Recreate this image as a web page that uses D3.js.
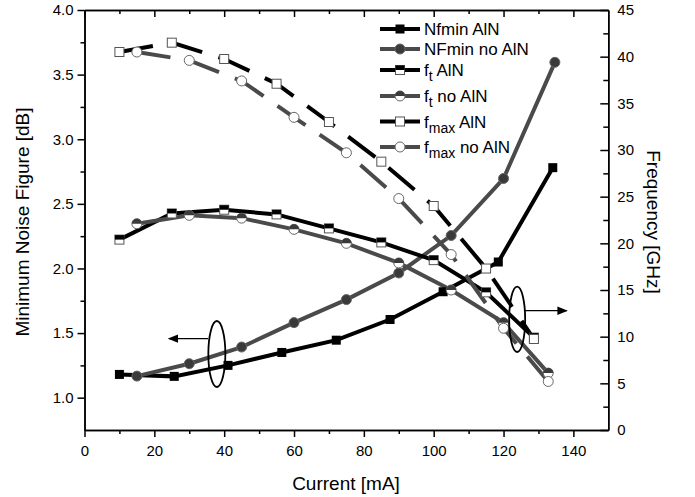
<!DOCTYPE html>
<html>
<head>
<meta charset="utf-8">
<script src="https://cdn.jsdelivr.net/npm/d3@7"></script>
<style>
  body { margin: 0; background: #fff; }
  svg { font-family: "Liberation Sans", Arial, sans-serif; }
  .axis path, .axis line { stroke: #000; stroke-width: 1.5; }
  .axis text { font-size: 15px; fill: #000; }
</style>
</head>
<body>
<div id="chart"></div>
<script>
// values
var nfAlnX    = [10, 25.7, 41.1, 56.5, 72.1, 87.5, 102.7, 118.5, 134.1];
var nfAlnY    = [1.18, 1.165, 1.25, 1.35, 1.445, 1.605, 1.82, 2.05, 2.78];
var nfNoAlnX  = [15, 30, 45, 60, 75, 90, 105, 120, 134.7];
var nfNoAlnY  = [1.167, 1.263, 1.392, 1.581, 1.759, 1.965, 2.255, 2.696, 3.595];
var fAlnX     = [10, 25, 40, 55, 70, 85, 100, 115, 128.7];
var ftAlnY    = [20.4, 23.2, 23.6, 23.1, 21.6, 20.1, 18.2, 14.75, 9.9];
var fmaxAlnY  = [40.5, 41.5, 39.75, 37.1, 33.0, 28.75, 24.0, 17.3, 9.75];
var fNoAlnX   = [15, 30, 45, 60, 75, 90, 105, 120, 132.8];
var ftNoAlnY  = [22.1, 23.0, 22.7, 21.5, 20.0, 17.9, 15.0, 11.5, 6.1];
var fmaxNoAlnY= [40.5, 39.6, 37.4, 33.5, 29.7, 24.8, 18.8, 10.9, 5.2];

var xTicks = [0, 20, 40, 60, 80, 100, 120, 140];
var yLeftTicks = [1.0, 1.5, 2.0, 2.5, 3.0, 3.5, 4.0];
var yRightTicks = [0, 5, 10, 15, 20, 25, 30, 35, 40, 45];

var W = 695, H = 497;
var black = "#000", gray = "#4a4a4a";

var x = d3.scaleLinear().domain([0, 150]).range([84.5, 608.3]);
var yL = d3.scaleLinear().domain([0.75, 4]).range([430, 10]);
var yR = d3.scaleLinear().domain([0, 45]).range([430, 10]);

var svg = d3.select("#chart").append("svg").attr("width", W).attr("height", H);

// series
var series = [
  { name: "Nfmin AlN", xs: nfAlnX, ys: nfAlnY, y: yL, color: black, marker: "square", dash: null },
  { name: "NFmin no AlN", xs: nfNoAlnX, ys: nfNoAlnY, y: yL, color: gray, marker: "circle", dash: null },
  { name: ["f", "t", " AlN"], xs: fAlnX, ys: ftAlnY, y: yR, color: black, marker: "halfsquare", dash: null },
  { name: ["f", "t", " no AlN"], xs: fNoAlnX, ys: ftNoAlnY, y: yR, color: gray, marker: "halfcircle", dash: null },
  { name: ["f", "max", " AlN"], xs: fAlnX, ys: fmaxAlnY, y: yR, color: black, marker: "opensquare", dash: "34,17" },
  { name: ["f", "max", " no AlN"], xs: fNoAlnX, ys: fmaxNoAlnY, y: yR, color: gray, marker: "opencircle", dash: "34,17" }
];

function drawMarker(g, type, cx, cy, color) {
  if (type === "square") {
    g.append("rect").attr("x", cx - 4.5).attr("y", cy - 4.5).attr("width", 9).attr("height", 9)
      .attr("fill", "#000");
  } else if (type === "circle") {
    g.append("circle").attr("cx", cx).attr("cy", cy).attr("r", 5)
      .attr("fill", "#3a3a3a").attr("stroke", "#666").attr("stroke-width", 1);
  } else if (type === "halfsquare") {
    g.append("rect").attr("x", cx - 4.5).attr("y", cy - 4.5).attr("width", 9).attr("height", 9)
      .attr("fill", "#fff").attr("stroke", "#555").attr("stroke-width", 1);
    g.append("rect").attr("x", cx - 4.5).attr("y", cy - 4.5).attr("width", 9).attr("height", 4.5)
      .attr("fill", "#000");
  } else if (type === "halfcircle") {
    g.append("circle").attr("cx", cx).attr("cy", cy).attr("r", 5)
      .attr("fill", "#fff").attr("stroke", "#666").attr("stroke-width", 1);
    g.append("path")
      .attr("d", "M" + (cx - 5) + "," + cy + " A5,5 0 0,1 " + (cx + 5) + "," + cy + " Z")
      .attr("fill", "#3a3a3a");
  } else if (type === "opensquare") {
    g.append("rect").attr("x", cx - 4.5).attr("y", cy - 4.5).attr("width", 9).attr("height", 9)
      .attr("fill", "#fff").attr("stroke", "#555").attr("stroke-width", 1);
  } else if (type === "opencircle") {
    g.append("circle").attr("cx", cx).attr("cy", cy).attr("r", 5)
      .attr("fill", "#fff").attr("stroke", "#666").attr("stroke-width", 1);
  }
}

var plot = svg.append("g");

series.forEach(function(s) {
  var pts = s.xs.map(function(v, i) { return [v, s.ys[i]]; });
  var line = d3.line().x(function(d) { return x(d[0]); }).y(function(d) { return s.y(d[1]); });
  plot.append("path").attr("d", line(pts))
    .attr("fill", "none").attr("stroke", s.color).attr("stroke-width", 4)
    .attr("stroke-dasharray", s.dash);
});
series.forEach(function(s) {
  var mg = plot.append("g");
  s.xs.forEach(function(v, i) { drawMarker(mg, s.marker, x(v), s.y(s.ys[i]), s.color); });
});

// axes
var minorX = d3.range(10, 150, 20);
svg.append("g").attr("class", "axis").attr("transform", "translate(0,430)")
  .call(d3.axisBottom(x).tickValues(xTicks).tickFormat(d3.format("d")).tickSizeInner(7).tickSizeOuter(0).tickPadding(8));
svg.append("g").attr("class", "axis").attr("transform", "translate(0,430)")
  .call(d3.axisBottom(x).tickValues(minorX).tickFormat("").tickSizeInner(4).tickSizeOuter(0));
svg.append("g").attr("class", "axis").attr("transform", "translate(0,10)")
  .call(d3.axisTop(x).tickValues(xTicks).tickFormat("").tickSizeInner(-7).tickSizeOuter(0));
svg.append("g").attr("class", "axis").attr("transform", "translate(0,10)")
  .call(d3.axisTop(x).tickValues(minorX).tickFormat("").tickSizeInner(-4).tickSizeOuter(0));

svg.append("g").attr("class", "axis").attr("transform", "translate(" + x(0) + ",0)")
  .call(d3.axisLeft(yL).tickValues(yLeftTicks).tickFormat(d3.format(".1f")).tickSizeInner(7).tickSizeOuter(0).tickPadding(4));
svg.append("g").attr("class", "axis").attr("transform", "translate(" + x(0) + ",0)")
  .call(d3.axisLeft(yL).tickValues(d3.range(1.25, 4, 0.5)).tickFormat("").tickSizeInner(4).tickSizeOuter(0));

svg.append("g").attr("class", "axis").attr("transform", "translate(" + x(150) + ",0)")
  .call(d3.axisRight(yR).tickValues(yRightTicks).tickFormat(d3.format("d")).tickSizeInner(-8).tickSizeOuter(0).tickPadding(9));
svg.append("g").attr("class", "axis").attr("transform", "translate(" + x(150) + ",0)")
  .call(d3.axisRight(yR).tickValues(d3.range(2.5, 45, 5)).tickFormat("").tickSizeInner(-5).tickSizeOuter(0));

// axis titles
svg.append("text").attr("x", 346).attr("y", 490).attr("text-anchor", "middle")
  .style("font-size", "19px").text("Current [mA]");
svg.append("text").attr("transform", "translate(29,222) rotate(-90)").attr("text-anchor", "middle")
  .style("font-size", "19px").text("Minimum Noise Figure [dB]");
svg.append("text").attr("transform", "translate(647,222) rotate(90)").attr("text-anchor", "middle")
  .style("font-size", "19px").text("Frequency [GHz]");

// annotations: ellipses with arrows
var defs = svg.append("defs");
defs.append("marker").attr("id", "arrow").attr("viewBox", "0 0 10 10").attr("refX", 9).attr("refY", 5)
  .attr("markerWidth", 8).attr("markerHeight", 8).attr("orient", "auto-start-reverse")
  .append("path").attr("d", "M0,1 L10,5 L0,9 Z").attr("fill", "#000");

svg.append("ellipse").attr("cx", x(37.9)).attr("cy", yL(1.338)).attr("rx", 8.5).attr("ry", 33)
  .attr("fill", "none").attr("stroke", "#000").attr("stroke-width", 1.8);
svg.append("line").attr("x1", x(35.4)).attr("y1", yL(1.457)).attr("x2", x(24.2)).attr("y2", yL(1.457))
  .attr("stroke", "#000").attr("stroke-width", 1.3).attr("marker-end", "url(#arrow)");
svg.append("ellipse").attr("cx", x(123.9)).attr("cy", yR(11.86)).attr("rx", 8).attr("ry", 32.7)
  .attr("fill", "none").attr("stroke", "#000").attr("stroke-width", 1.8);
svg.append("line").attr("x1", x(126.1)).attr("y1", yR(12.78)).attr("x2", x(138.1)).attr("y2", yR(12.78))
  .attr("stroke", "#000").attr("stroke-width", 1.3).attr("marker-end", "url(#arrow)");

// legend
var legendY = [29, 49, 70, 96, 121.5, 147];
series.forEach(function(s, i) {
  var g = svg.append("g").attr("transform", "translate(380," + legendY[i] + ")");
  g.append("line").attr("x1", 0).attr("x2", 40).attr("y1", 0).attr("y2", 0)
    .attr("stroke", s.color).attr("stroke-width", 4);
  drawMarker(g, s.marker, 20, 0, s.color);
  var t = g.append("text").attr("x", 44).attr("y", 6).style("font-size", "17px");
  if (typeof s.name === "string") {
    t.text(s.name);
  } else {
    t.append("tspan").text(s.name[0]);
    t.append("tspan").attr("dy", 5).style("font-size", "14px").text(s.name[1]);
    t.append("tspan").attr("dy", -5).text(s.name[2]);
  }
});
</script>
</body>
</html>
